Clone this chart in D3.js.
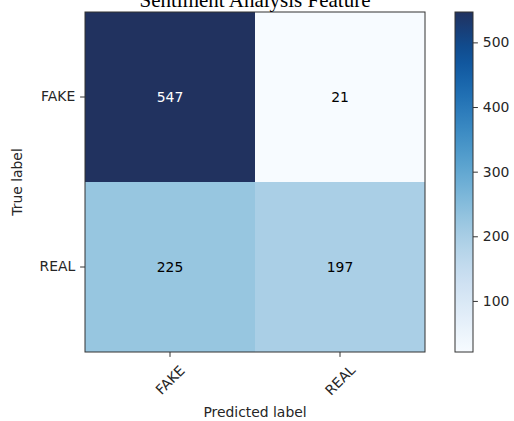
<!DOCTYPE html>
<html>
<head>
<meta charset="utf-8">
<script src="https://cdn.jsdelivr.net/npm/d3@7"></script>
<style>
  html, body { margin: 0; padding: 0; background: #fff; }
  svg { display: block; }
</style>
</head>
<body>
<svg id="chart" width="514" height="421"></svg>
<script>
// ---- data ----
const predictedLabels = ["FAKE", "REAL"];
const trueLabels = ["FAKE", "REAL"];
const matrixValues = [
  [547, 21],
  [225, 197]
];
const colorbarTicks = [100, 200, 300, 400, 500];
const titleText = "Sentiment Analysis Feature";
const xAxisTitle = "Predicted label";
const yAxisTitle = "True label";

// ---- layout ----
const W = 514, H = 421;
const plot = { left: 85, top: 12, size: 340 };
const cbar = { left: 455, width: 18 };
const tickFont = "13.9px 'DejaVu Sans', sans-serif";

const svg = d3.select("#chart");

const cells = [];
trueLabels.forEach((t, i) => predictedLabels.forEach((p, j) => {
  cells.push({ t, p, v: matrixValues[i][j] });
}));
const allVals = cells.map(d => d.v);
const vmin = d3.min(allVals), vmax = d3.max(allVals);

const blues = d3.interpolateRgbBasis([
  "#f7fbff", "#deebf7", "#c6dbef", "#9ecae1", "#6baed6",
  "#4292c6", "#2171b5", "#08519c", "#21325f"
]);
const color = d3.scaleSequential(blues).domain([vmin, vmax]);

const x = d3.scaleBand().domain(predictedLabels)
  .range([plot.left, plot.left + plot.size]);
const y = d3.scaleBand().domain(trueLabels)
  .range([plot.top, plot.top + plot.size]);

// cells
svg.append("g").selectAll("rect").data(cells).enter().append("rect")
  .attr("x", d => x(d.p))
  .attr("y", d => y(d.t))
  .attr("width", x.bandwidth())
  .attr("height", y.bandwidth())
  .attr("fill", d => color(d.v));

// cell text
const thresh = vmax / 2;
svg.append("g").selectAll("text").data(cells).enter().append("text")
  .attr("x", d => x(d.p) + x.bandwidth() / 2)
  .attr("y", d => y(d.t) + y.bandwidth() / 2)
  .attr("text-anchor", "middle")
  .attr("dominant-baseline", "central")
  .style("font", tickFont)
  .attr("fill", d => d.v > thresh ? "#ffffff" : "#000000")
  .text(d => d.v);

// frame
svg.append("rect")
  .attr("x", plot.left).attr("y", plot.top)
  .attr("width", plot.size).attr("height", plot.size)
  .attr("fill", "none").attr("stroke", "#333").attr("stroke-width", 1);

// axes
const tickLen = 4.9, tickPad = 4.9;
const xAxis = svg.append("g")
  .attr("transform", `translate(0,${plot.top + plot.size})`)
  .call(d3.axisBottom(x).tickSize(tickLen).tickPadding(tickPad));
xAxis.select(".domain").remove();
xAxis.selectAll("line").attr("stroke", "#333");
xAxis.selectAll("text")
  .style("font", tickFont).attr("fill", "#262626")
  .attr("y", 0).attr("dy", null)
  .attr("dominant-baseline", "central")
  .attr("text-anchor", "middle")
  .attr("transform", "translate(0,28) rotate(-45)");

const yAxis = svg.append("g")
  .attr("transform", `translate(${plot.left},0)`)
  .call(d3.axisLeft(y).tickSize(tickLen).tickPadding(tickPad));
yAxis.select(".domain").remove();
yAxis.selectAll("line").attr("stroke", "#333");
yAxis.selectAll("text").style("font", tickFont).attr("fill", "#262626");

// axis titles
svg.append("text")
  .attr("x", plot.left + plot.size / 2)
  .attr("y", 417)
  .attr("text-anchor", "middle")
  .style("font", tickFont).attr("fill", "#262626")
  .text(xAxisTitle);

svg.append("text")
  .attr("transform", `translate(22,${plot.top + plot.size / 2}) rotate(-90)`)
  .attr("text-anchor", "middle")
  .style("font", tickFont).attr("fill", "#262626")
  .text(yAxisTitle);

// title
svg.append("text")
  .attr("x", plot.left + plot.size / 2)
  .attr("y", 7)
  .attr("text-anchor", "middle")
  .style("font", "21px 'Liberation Serif', 'Times New Roman', serif")
  .attr("fill", "#000")
  .text(titleText);

// colorbar
const defs = svg.append("defs");
const grad = defs.append("linearGradient").attr("id", "cbgrad")
  .attr("x1", 0).attr("y1", 1).attr("x2", 0).attr("y2", 0);
d3.range(0, 1.0001, 0.05).forEach(s => {
  grad.append("stop").attr("offset", s)
    .attr("stop-color", color(vmin + s * (vmax - vmin)));
});
svg.append("rect")
  .attr("x", cbar.left).attr("y", plot.top)
  .attr("width", cbar.width).attr("height", plot.size)
  .attr("fill", "url(#cbgrad)")
  .attr("stroke", "#333").attr("stroke-width", 1);

const cy = d3.scaleLinear().domain([vmin, vmax])
  .range([plot.top + plot.size, plot.top]);
const cAxis = svg.append("g")
  .attr("transform", `translate(${cbar.left + cbar.width},0)`)
  .call(d3.axisRight(cy).tickValues(colorbarTicks).tickSize(tickLen).tickPadding(tickPad));
cAxis.select(".domain").remove();
cAxis.selectAll("line").attr("stroke", "#333");
cAxis.selectAll("text").style("font", tickFont).attr("fill", "#262626");
</script>
</body>
</html>
